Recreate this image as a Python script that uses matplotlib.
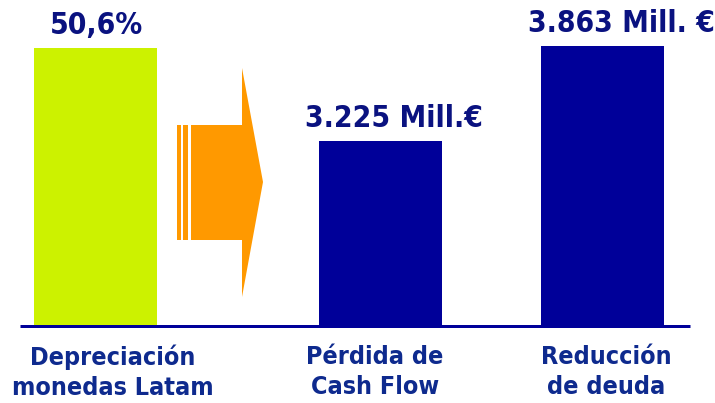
import matplotlib
matplotlib.use("Agg")
import matplotlib.pyplot as plt
from matplotlib.patches import Polygon, Rectangle

# ---- data ----
categories = ["Depreciación\nmonedas Latam", "Pérdida de\nCash Flow", "Reducción\nde deuda"]
value_labels = ["50,6%", "3.225 Mill.€", "3.863 Mill. €"]
bar_heights = [100.0, 66.5, 100.7]   # relative bar heights as drawn
bar_colors = ["#CCF200", "#000099", "#000099"]

# ---- layout ----
W, H, DPI = 715, 403, 100
fig = plt.figure(figsize=(W / DPI, H / DPI), dpi=DPI)
base_px = 326
ax = fig.add_axes([0, (H - base_px) / H, 1, base_px / H])
ax.set_xlim(0, W)
ax.set_ylim(0, 100 * base_px / 278)
ax.axis("off")

xpos = [95, 380, 602.5]
bw = 123
value_color = "#0A1280"
cat_color = "#0E2A8E"

bars = ax.bar(xpos, bar_heights, width=bw, color=bar_colors, zorder=2)

label_dx = [1, 14, 19]
for b, lab, dx in zip(bars, value_labels, label_dx):
    ax.annotate(lab, (b.get_x() + b.get_width() / 2, b.get_height()),
                xytext=(dx * 72 / DPI, 8 * 72 / DPI), textcoords="offset points",
                ha="center", va="bottom", fontsize=21.5, fontweight="bold",
                color=value_color, family="DejaVu Sans", fontstretch="condensed")

# baseline
ax.plot([20, 690], [0, 0], color="#000099", lw=3 * 72 / DPI, clip_on=False, zorder=3,
        solid_capstyle="butt")

# category labels
cat_dx = [18, -5, 4]
for x, cat, dx in zip(xpos, categories, cat_dx):
    ax.annotate(cat, (x, 0), xytext=(dx * 72 / DPI, -19 * 72 / DPI),
                textcoords="offset points", ha="center", va="top",
                fontsize=18, fontweight="bold", color=cat_color,
                family="DejaVu Sans", fontstretch="condensed", linespacing=1.3,
                annotation_clip=False)

# orange arrow
def py(p):
    return (base_px - p) / 278 * 100

orange = "#FF9900"
arrow = Polygon([(191, py(125)), (242, py(125)), (242, py(68)), (263, py(182)),
                 (242, py(297)), (242, py(240)), (191, py(240))],
                closed=True, color=orange, lw=0, zorder=2)
ax.add_patch(arrow)
for x0, x1 in [(177, 180.5), (182.5, 188)]:
    ax.add_patch(Rectangle((x0, py(240)), x1 - x0, py(125) - py(240), color=orange, lw=0))

fig.savefig("out.png", dpi=DPI)
